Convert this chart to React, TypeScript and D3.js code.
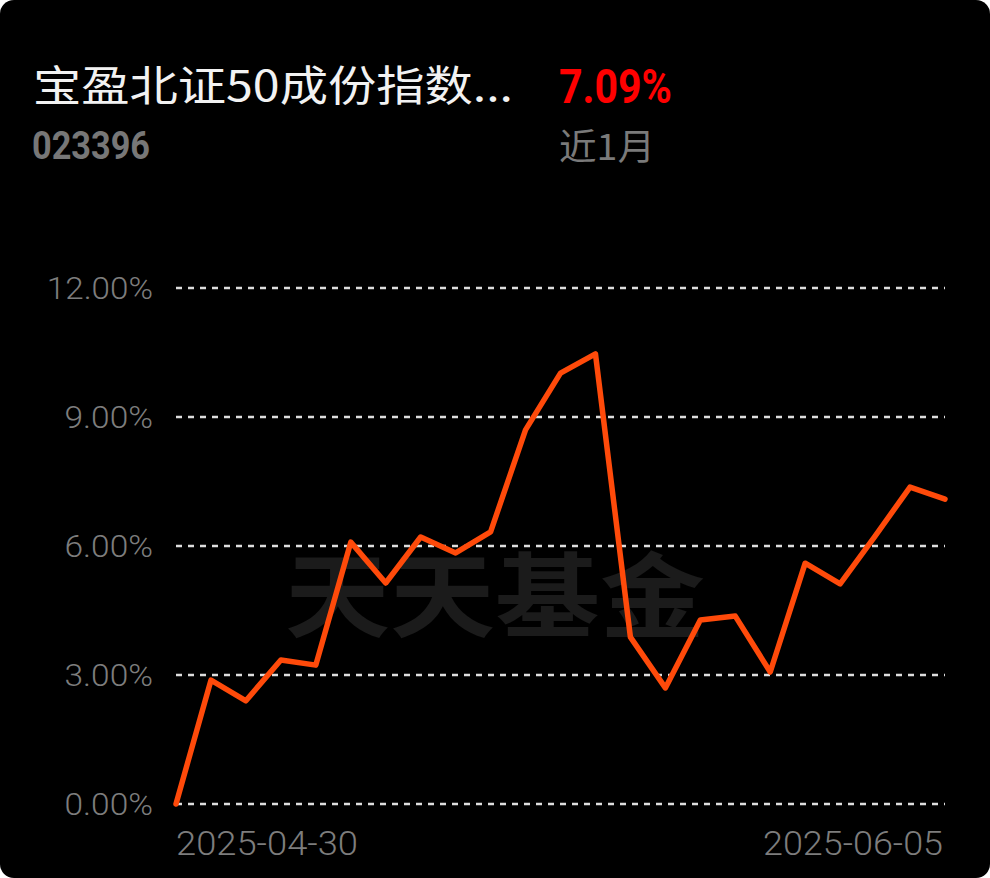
import React from "react";
import * as d3 from "d3";

const dates = [
  "2025-04-30", "2025-05-06", "2025-05-07", "2025-05-08", "2025-05-09",
  "2025-05-12", "2025-05-13", "2025-05-14", "2025-05-15", "2025-05-16",
  "2025-05-19", "2025-05-20", "2025-05-21", "2025-05-22", "2025-05-23",
  "2025-05-26", "2025-05-27", "2025-05-28", "2025-05-29", "2025-05-30",
  "2025-06-03", "2025-06-04", "2025-06-05",
];
const returns = [
  0, 2.88, 2.40, 3.35, 3.23, 6.09, 5.14, 6.21, 5.84, 6.33,
  8.70, 10.02, 10.47, 3.88, 2.70, 4.28, 4.37, 3.07, 5.60, 5.12,
  6.23, 7.37, 7.09,
];
const yTicks = [0, 3, 6, 9, 12];
const xTickLabels = ["2025-04-30", "2025-06-05"];
const fundName = "宝盈北证50成份指数...";
const fundCode = "023396";
const periodReturn = "7.09%";
const periodLabel = "近1月";
const watermark = "天天基金";

const W = 990;
const H = 878;
const left = 176;
const right = 945;
const top = 288;
const bottom = 804;

export default function App() {
  const x = d3.scalePoint<string>().domain(dates).range([left, right]);
  const y = d3.scaleLinear().domain([0, 12]).range([bottom, top]);
  const line = d3
    .line<number>()
    .x((_, i) => x(dates[i]) as number)
    .y((d) => y(d));
  const cjk = "'Noto Sans CJK SC', 'Noto Sans', sans-serif";
  const num = "Roboto, 'Noto Sans', sans-serif";
  return (
    <svg
      width={W}
      height={H}
      style={{ position: "absolute", left: 0, top: 0, display: "block" }}
    >
      <rect x={0} y={0} width={W} height={H} fill="#ffffff" />
      <rect x={0} y={0} width={W} height={H} rx={14} ry={14} fill="#000000" />
      <text
        x={33}
        y={101}
        fill="#f2f2f2"
        fontSize={42}
        fontFamily={cjk}
        textLength={480}
        lengthAdjust="spacingAndGlyphs"
      >
        {fundName}
      </text>
      <text
        x={559}
        y={103}
        fill="#ff0000"
        fontSize={48}
        fontWeight={700}
        fontFamily={num}
        textLength={113}
        lengthAdjust="spacingAndGlyphs"
      >
        {periodReturn}
      </text>
      <text
        x={32}
        y={159}
        fill="#777777"
        fontSize={38}
        fontWeight={700}
        fontFamily={num}
        textLength={118}
        lengthAdjust="spacingAndGlyphs"
      >
        {fundCode}
      </text>
      <text
        x={559}
        y={160}
        fill="#7a7a7a"
        fontSize={36}
        fontFamily={cjk}
        textLength={96}
        lengthAdjust="spacingAndGlyphs"
      >
        {periodLabel}
      </text>
      <text
        x={(285 + 705) / 2}
        y={630}
        fill="#1b1b1b"
        fontSize={92}
        fontWeight={700}
        fontFamily="'Noto Sans CJK SC', serif"
        textAnchor="middle"
        textLength={420}
        lengthAdjust="spacingAndGlyphs"
      >
        {watermark}
      </text>
      {yTicks.map((t) => {
        const label = t.toFixed(2) + "%";
        return (
          <g key={t}>
            <line
              x1={left}
              x2={right}
              y1={y(t)}
              y2={y(t)}
              stroke="#dddddd"
              strokeWidth={2.5}
              strokeDasharray="6 6"
            />
            <text
              x={153}
              y={y(t)}
              dy="0.35em"
              textAnchor="end"
              fill="#7d7d7d"
              fontSize={31}
              fontWeight={300}
              fontFamily={num}
              textLength={label.length * 17.7}
              lengthAdjust="spacingAndGlyphs"
            >
              {label}
            </text>
          </g>
        );
      })}
      <path
        d={line(returns) || ""}
        fill="none"
        stroke="#ff4a0a"
        strokeWidth={5.5}
        strokeLinejoin="round"
        strokeLinecap="round"
      />
      <text
        x={x(xTickLabels[0])}
        y={855}
        fill="#7d7d7d"
        fontSize={34}
        fontWeight={300}
        fontFamily={num}
        textAnchor="start"
        textLength={182}
        lengthAdjust="spacingAndGlyphs"
      >
        {xTickLabels[0]}
      </text>
      <text
        x={(x(xTickLabels[1]) as number) - 2}
        y={855}
        fill="#7d7d7d"
        fontSize={34}
        fontWeight={300}
        fontFamily={num}
        textAnchor="end"
        textLength={180}
        lengthAdjust="spacingAndGlyphs"
      >
        {xTickLabels[1]}
      </text>
    </svg>
  );
}
